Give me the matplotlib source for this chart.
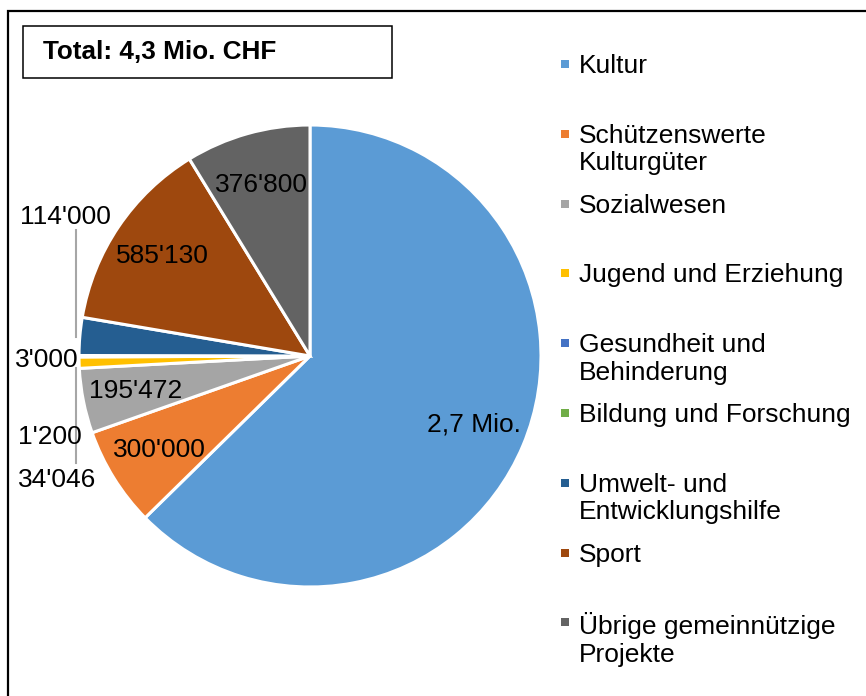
import numpy as np
import matplotlib
matplotlib.use('Agg')
import matplotlib.pyplot as plt
from matplotlib.patches import Rectangle

plt.rcParams['font.family'] = ['Liberation Sans', 'DejaVu Sans']

categories = ['Kultur', 'Schützenswerte\nKulturgüter', 'Sozialwesen', 'Jugend und Erziehung',
              'Gesundheit und\nBehinderung', 'Bildung und Forschung', 'Umwelt- und\nEntwicklungshilfe',
              'Sport', 'Übrige gemeinnützige\nProjekte']
values = [2700000, 300000, 195472, 34046, 1200, 3000, 114000, 585130, 376800]
colors = ['#5B9BD5', '#ED7D31', '#A5A5A5', '#FFC000', '#4472C4', '#70AD47', '#255E91', '#9E480E', '#636363']
value_labels = ['2,7 Mio.', "300'000", "195'472", "34'046", "1'200", "3'000", "114'000", "585'130", "376'800"]
inside = [True, True, True, False, False, False, False, True, True]
title_text = 'Total: 4,3 Mio. CHF'

# outside label positions (data coords of pie axes) for the small slices
outside_pos = {3: (-1.095, -0.537), 4: (-1.125, -0.35), 5: (-1.14, -0.017), 6: (-1.06, 0.60)}
leaders = {3: (-0.463, -0.052), 6: (0.545, 0.082)}

W, H = 866, 696
fig = plt.figure(figsize=(W / 100, H / 100), dpi=100)

# outer frame (runs off right/bottom edge)
fig.add_artist(Rectangle((8 / W, -0.1), 1.2, 1 - 11 / H + 0.1, transform=fig.transFigure,
                         fill=False, edgecolor='black', linewidth=1.6))

# total box
fig.add_artist(Rectangle((23 / W, 1 - 78 / H), (392 - 23) / W, 52 / H, transform=fig.transFigure,
                         fill=False, edgecolor='black', linewidth=1.1))
fig.text(43 / W, 1 - 52 / H, title_text, fontsize=18.8, fontweight='bold', ha='left', va='center')

cx, cy, r = 310, 356, 231
ax = fig.add_axes([(cx - r) / W, (H - cy - r) / H, 2 * r / W, 2 * r / H])
wedges, _ = ax.pie(values, colors=colors, startangle=90, counterclock=False, radius=1,
                   wedgeprops=dict(edgecolor='white', linewidth=2.2))
ax.set_xlim(-1, 1)
ax.set_ylim(-1, 1)
ax.axis('off')

fs = 19
for i, w in enumerate(wedges):
    if inside[i]:
        mid = np.radians((w.theta1 + w.theta2) / 2)
        ax.text(0.77 * np.cos(mid), 0.77 * np.sin(mid), value_labels[i], fontsize=fs,
                ha='center', va='center', color='black')
    else:
        x, y = outside_pos[i]
        ax.text(x, y, value_labels[i], fontsize=fs, ha='center', va='center', color='black')
for i, (y0, y1) in leaders.items():
    ax.plot([-1.013, -1.013], [y0, y1], color='#A6A6A6', linewidth=1.5, clip_on=False)

# legend
for i, (lab, col) in enumerate(zip(categories, colors)):
    top = 55 + 69.8 * i
    fig.add_artist(Rectangle((561 / W, 1 - (top + 13) / H), 8 / W, 8 / H, transform=fig.transFigure,
                             facecolor=col, edgecolor='none'))
    fig.text(579 / W, 1 - (top - 1) / H, lab, fontsize=fs, ha='left', va='top', linespacing=1.18)

fig.savefig('out.png', dpi=100)
